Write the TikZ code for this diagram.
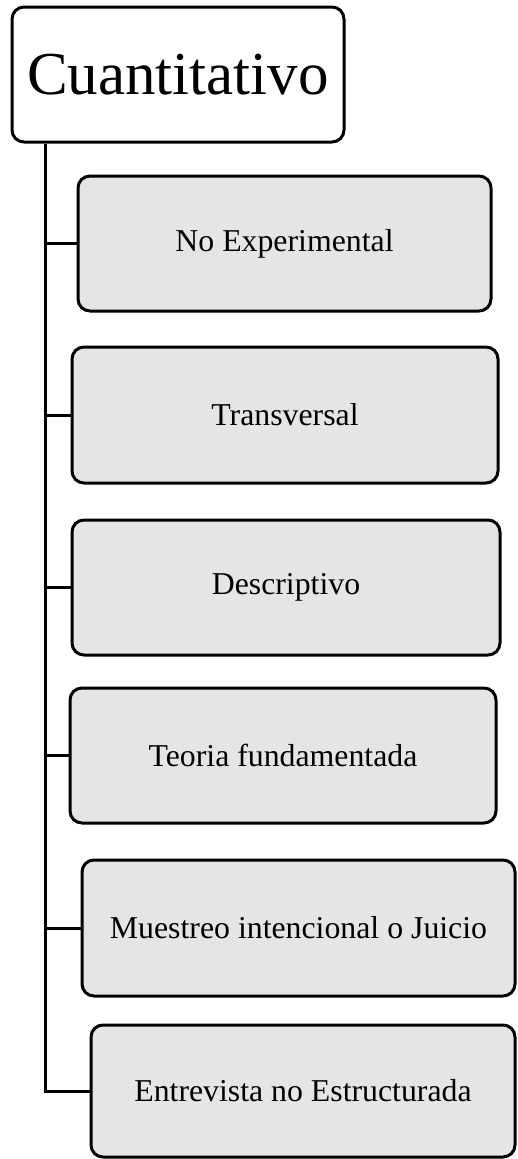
\documentclass[tikz,border=0pt]{standalone}
\usepackage{fontspec}
\setmainfont{Liberation Serif}
\definecolor{boxgray}{HTML}{E5E5E5}
\begin{document}
\begin{tikzpicture}[x=1pt,y=-1pt,
  topbox/.style={draw=black, line width=3pt, rounded corners=12pt, fill=white,
    inner sep=0pt, font=\fontsize{61}{70}\selectfont},
  subbox/.style={draw=black, line width=3pt, rounded corners=12pt, fill=boxgray,
    inner sep=0pt, font=\fontsize{31.8}{36}\selectfont},
  link/.style={draw=black, line width=3pt}]
\useasboundingbox (0,0) rectangle (517,1159);
\node[topbox, minimum width=332pt, minimum height=135pt] (top) at (178,74.5) {Cuantitativo};
\node[subbox, minimum width=413pt, minimum height=135pt] (b1) at (284.5,243.5) {No Experimental};
\node[subbox, minimum width=426pt, minimum height=136pt] (b2) at (285,415) {Transversal};
\node[subbox, minimum width=428pt, minimum height=135pt] (b3) at (286,587.5) {Descriptivo};
\node[subbox, minimum width=426pt, minimum height=135pt] (b4) at (283,755.5) {Teoria fundamentada};
\node[subbox, minimum width=433pt, minimum height=136pt] (b5) at (298.5,928) {Muestreo intencional o Juicio};
\node[subbox, minimum width=424pt, minimum height=132pt] (b6) at (303,1091) {Entrevista no Estructurada};
\coordinate (tx) at (45,0);
\foreach \b in {b1,b2,b3,b4,b5,b6}{
  \draw[link] (tx |- top.south) |- (\b.west);
}
\end{tikzpicture}
\end{document}
